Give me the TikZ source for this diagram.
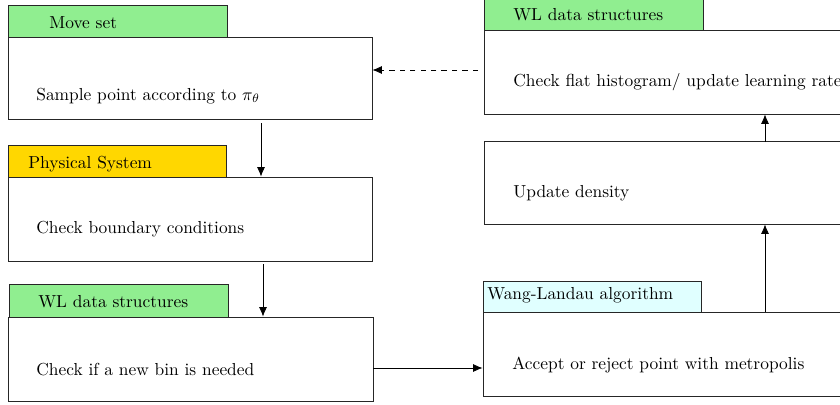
\documentclass[tikz,border=0pt]{standalone}
\usetikzlibrary{arrows.meta}
\definecolor{hgreen}{RGB}{144,238,144}
\definecolor{hgold}{RGB}{255,215,0}
\definecolor{hcyan}{RGB}{224,255,255}
\begin{document}
\begin{tikzpicture}[x=0.575pt,y=-0.575pt,
  mainbox/.style={draw=black!85,fill=white,inner sep=0pt,minimum width=364*0.575pt,minimum height=84*0.575pt},
  headbox/.style={draw=black!85,inner sep=0pt,minimum width=219*0.575pt,minimum height=32*0.575pt},
  txt/.style={inner sep=0pt,anchor=base west,font=\normalsize},
  arr/.style={-{Latex[length=5.5pt,width=4.6pt]},line width=0.45pt}]
\path[use as bounding box] (0,0) rectangle (840,404);
\clip (0,0) rectangle (840,404);

% left column
\node[mainbox,minimum height=82.5*0.575pt] (ms) at (190,78.25) {};
\node[headbox,fill=hgreen] (hms) at (117.5,21) {};
\node[txt] (tms) at (49,29) {Move set};
\node[txt] (sms) at (36,100) {Sample point according to $\pi_\theta$};

\node[mainbox] (ps) at (190,219) {};
\node[headbox,fill=hgold,minimum width=218*0.575pt] (hps) at (117,161) {};
\node[txt] (tps) at (28,168) {Physical System};
\node[txt] (sps) at (36,233) {Check boundary conditions};

\node[mainbox,minimum width=365*0.575pt] (wl) at (190.5,359) {};
\node[headbox,fill=hgreen,minimum height=33*0.575pt] (hwl) at (118.5,300.5) {};
\node[txt] (twl) at (38,307) {WL data structures};
\node[txt] (swl) at (36,375) {Check if a new bin is needed};

% right column
\node[mainbox] (fh) at (666,72) {};
\node[headbox,fill=hgreen] (hfh) at (593.5,14) {};
\node[txt] (tfh) at (513,21) {WL data structures};
\node[txt] (sfh) at (513,87) {Check flat histogram/ update learning rate};

\node[mainbox,minimum height=83*0.575pt] (ud) at (666,182.5) {};
\node[txt] (sud) at (513,197) {Update density};

\node[mainbox] (ar) at (665,354) {};
\node[headbox,fill=hcyan,minimum width=218*0.575pt,minimum height=31*0.575pt] (har) at (592,296.5) {};
\node[txt] (tar) at (487,299) {Wang-Landau algorithm};
\node[txt] (sar) at (512,369) {Accept or reject point with metropolis};

% connectors
\coordinate (d1) at (478,70);
\draw[arr,dashed] (d1) -- (d1 -| ms.east);
\coordinate (a1) at (261,123);
\draw[arr] (a1) -- (a1 |- ps.north);
\coordinate (a2) at (263,264);
\draw[arr] (a2) -- (a2 |- wl.north);
\coordinate (a3) at (373,368);
\draw[arr] (a3) -- (a3 -| ar.west);
\coordinate (a4) at (765,0);
\draw[arr] (a4 |- ar.north) -- (a4 |- ud.south);
\coordinate (a5) at (765,142);
\draw[arr] (a5) -- (a5 |- fh.south);
\end{tikzpicture}
\end{document}
